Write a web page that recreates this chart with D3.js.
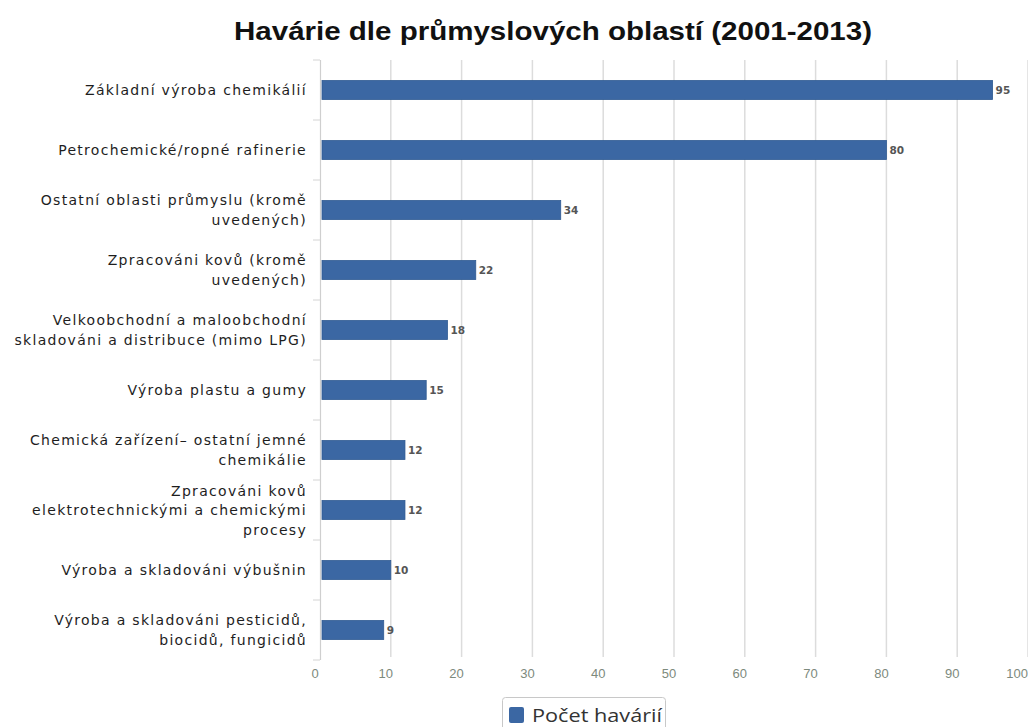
<!DOCTYPE html>
<html><head><meta charset="utf-8">
<script src="https://cdn.jsdelivr.net/npm/d3@7"></script>
<style>
html,body{margin:0;padding:0;background:#fff;}
svg{display:block;}
</style></head>
<body>
<svg id="chart" width="1028" height="727"></svg>
<script>
const title = "Havárie dle průmyslových oblastí (2001-2013)";
const categories = [
  ["Základní výroba chemikálií"],
  ["Petrochemické/ropné rafinerie"],
  ["Ostatní oblasti průmyslu (kromě", "uvedených)"],
  ["Zpracováni kovů (kromě", "uvedených)"],
  ["Velkoobchodní a maloobchodní", "skladováni a distribuce (mimo LPG)"],
  ["Výroba plastu a gumy"],
  ["Chemická zařízení– ostatní jemné", "chemikálie"],
  ["Zpracováni kovů", "elektrotechnickými a chemickými", "procesy"],
  ["Výroba a skladováni výbušnin"],
  ["Výroba a skladováni pesticidů,", "biocidů, fungicidů"]
];
const values = [95, 80, 34, 22, 18, 15, 12, 12, 10, 9];
const xTicks = [0, 10, 20, 30, 40, 50, 60, 70, 80, 90, 100];
const seriesName = "Počet havárií";

const svg = d3.select("#chart");
const mLeft = 320, mRight = 1028, mTop = 60, mBottom = 660;
const barColor = "#3b67a3";

const x = d3.scaleLinear().domain([0, 100]).range([mLeft, mRight]);
const y = d3.scaleBand().domain(d3.range(categories.length)).range([mTop, mBottom]).paddingInner(0.683).paddingOuter(0.3415);

// title
svg.append("text").attr("x", 234).attr("y", 40)
  .attr("font-family", "Liberation Sans, Arial, sans-serif").attr("font-weight", "bold")
  .attr("font-size", 25).attr("fill", "#111")
  .attr("textLength", 638).attr("lengthAdjust", "spacingAndGlyphs").text(title);

// gridlines
svg.append("g").selectAll("line").data(xTicks.filter(d => d > 0)).join("line")
  .attr("x1", d => x(d)).attr("x2", d => x(d)).attr("y1", mTop).attr("y2", 657)
  .attr("stroke", "#dcdcdc").attr("stroke-width", 1.5);

// y axis line
svg.append("line").attr("x1", mLeft + 0.5).attr("x2", mLeft + 0.5).attr("y1", mTop).attr("y2", mBottom)
  .attr("stroke", "#cfcfcf").attr("stroke-width", 1.2);

// y ticks at band boundaries
svg.append("g").selectAll("line").data(d3.range(categories.length + 1)).join("line")
  .attr("x1", mLeft - 7).attr("x2", mLeft)
  .attr("y1", i => mTop + i * y.step()).attr("y2", i => mTop + i * y.step())
  .attr("stroke", "#d4d4d4").attr("stroke-width", 1);

// bars
svg.append("g").selectAll("rect").data(values).join("rect")
  .attr("x", x(0) + 2).attr("y", (d, i) => y(i))
  .attr("width", d => x(d) - x(0) - 2).attr("height", y.bandwidth())
  .attr("fill", barColor).attr("stroke", "#2f5a92").attr("stroke-width", 0.8);

// value labels
svg.append("g").selectAll("text").data(values).join("text")
  .attr("x", d => x(d) + 3).attr("y", (d, i) => y(i) + y.bandwidth() / 2 + 4)
  .attr("font-family", "DejaVu Sans, sans-serif").attr("font-weight", "bold")
  .attr("font-size", 10.5).attr("fill", "#555").text(d => d);

// category labels
const catG = svg.append("g");
categories.forEach((lines, i) => {
  const cy = y(i) + y.bandwidth() / 2;
  const lh = 19.5;
  const t = catG.append("text").attr("text-anchor", "end")
    .attr("font-family", "DejaVu Sans, sans-serif").attr("font-size", 14)
    .attr("letter-spacing", 1.3).attr("fill", "#1e1e1e");
  lines.forEach((ln, j) => {
    t.append("tspan").attr("x", 307)
      .attr("y", cy + 5 + (j - (lines.length - 1) / 2) * lh).text(ln);
  });
});

// x tick labels
svg.append("g").selectAll("text").data(xTicks).join("text")
  .attr("x", d => d === 100 ? mRight : x(d) - 5).attr("y", 678)
  .attr("text-anchor", d => d === 100 ? "end" : "middle")
  .attr("font-family", "Liberation Sans Narrow, Liberation Sans, sans-serif")
  .attr("font-size", 13).attr("fill", "#7d8a7d").text(d => d);

// legend
const lg = svg.append("g");
lg.append("rect").attr("x", 502.5).attr("y", 697.5).attr("width", 163).attr("height", 40).attr("rx", 3)
  .attr("fill", "#fff").attr("stroke", "#c8c8c8");
lg.append("rect").attr("x", 509).attr("y", 707).attr("width", 15).attr("height", 16).attr("rx", 2)
  .attr("fill", barColor);
lg.append("text").attr("x", 532).attr("y", 722).attr("font-family", "Open Sans, sans-serif")
  .attr("font-size", 18).attr("fill", "#333")
  .attr("textLength", 130).attr("lengthAdjust", "spacingAndGlyphs").text(seriesName);
</script>
</body></html>
